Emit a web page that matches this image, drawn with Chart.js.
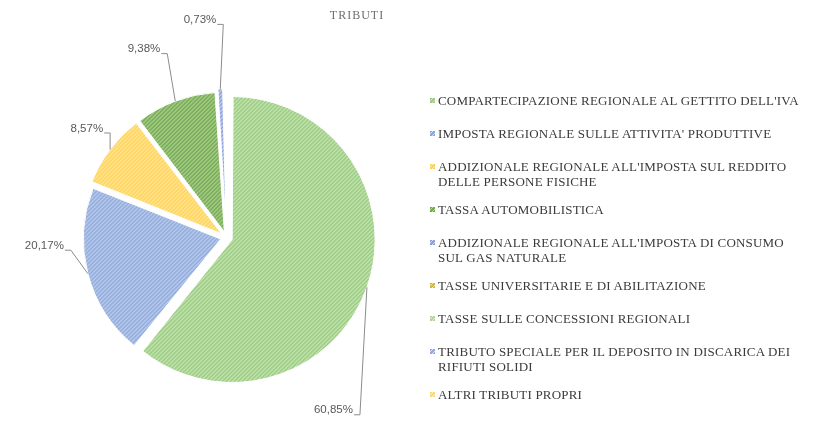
<!DOCTYPE html>
<html>
<head>
<meta charset="utf-8">
<script src="https://cdn.jsdelivr.net/npm/chart.js@4.4.0/dist/chart.umd.min.js"></script>
<style>
  body { margin: 0; background: #fff; }
  #wrap { position: relative; width: 829px; height: 421px; overflow: hidden; }
  #title {
    position: absolute; left: 0; top: 8px; width: 714px; text-align: center;
    font: 12px "Liberation Serif", serif; letter-spacing: 1px; color: #6f6f6f;
  }
  #legend {
    position: absolute; left: 428px; top: 93px; width: 400px;
    font: 13px "Liberation Serif", serif; color: #3a3a3a; letter-spacing: 0.2px;
  }
  .item { position: relative; padding-left: 10px; line-height: 15px; white-space: pre-line; margin-bottom: 18px; }
  .item.two { margin-bottom: 13px; }
  .mark { position: absolute; left: 2px; top: 5px; width: 5px; height: 5px; }
</style>
</head>
<body>
<div id="wrap">
  <canvas id="pie-chart" width="829" height="421"></canvas>
  <div id="title">TRIBUTI</div>
  <div id="legend"></div>
</div>
<script>
// dati (percentuali sul totale tributi)
var categories = [
    "COMPARTECIPAZIONE REGIONALE AL GETTITO DELL'IVA",
    "IMPOSTA REGIONALE SULLE ATTIVITA' PRODUTTIVE",
    "ADDIZIONALE REGIONALE ALL'IMPOSTA SUL REDDITO\nDELLE  PERSONE FISICHE",
    "TASSA AUTOMOBILISTICA",
    "ADDIZIONALE REGIONALE ALL'IMPOSTA DI  CONSUMO\nSUL GAS NATURALE",
    "TASSE UNIVERSITARIE E DI ABILITAZIONE",
    "TASSE SULLE CONCESSIONI REGIONALI",
    "TRIBUTO SPECIALE PER IL DEPOSITO IN DISCARICA DEI\nRIFIUTI SOLIDI",
    "ALTRI TRIBUTI PROPRI"
];
var percentages = [60.85, 20.17, 8.57, 9.38, 0.73, 0.12, 0.08, 0.06, 0.04];

// colori a righe (come il riempimento a tratteggio di Excel)
var lineColors = ['#9acb7f', '#8aa7da', '#ffd352', '#72aa4e', '#8a9ed8', '#d2b648', '#b2d39c', '#9aa6de', '#ffd966'];
var backColors = ['#d2eac3', '#cfdbf2', '#ffebb0', '#b9d8a4', '#d3daf3', '#efe3b0', '#e3f0da', '#dde1f5', '#fff1c8'];

// spostamento del testo dell'etichetta rispetto al bordo della fetta
var labelOffsets = [[-14, 123], [-24, -28], [-7, -21], [-15, -52], [-4, -69]];

function makeHatch(fg, bg) {
    var c = document.createElement('canvas');
    c.width = 4;
    c.height = 4;
    var g = c.getContext('2d');
    g.fillStyle = bg;
    g.fillRect(0, 0, 4, 4);
    g.strokeStyle = fg;
    g.lineWidth = 1.7;
    g.beginPath();
    g.moveTo(0, 4); g.lineTo(4, 0);
    g.moveTo(-1, 1); g.lineTo(1, -1);
    g.moveTo(3, 5); g.lineTo(5, 3);
    g.stroke();
    return g.createPattern(c, 'repeat');
}

function formatPct(v) {
    return v.toLocaleString('it-IT', { minimumFractionDigits: 2, maximumFractionDigits: 2 }) + '%';
}

// etichette esterne con linea di richiamo
var outLabels = {
    id: 'outLabels',
    afterDatasetsDraw: function(chart) {
        var ctx = chart.ctx;
        var arcs = chart.getDatasetMeta(0).data;
        ctx.save();
        ctx.font = '11.5px "Liberation Sans", Arial, sans-serif';
        ctx.textAlign = 'right';
        ctx.textBaseline = 'middle';
        for (var i = 0; i < labelOffsets.length; i++) {
            var arc = arcs[i];
            var p = arc.getProps(['x', 'y', 'startAngle', 'endAngle', 'outerRadius'], true);
            var mid = (p.startAngle + p.endAngle) / 2;
            var shift = (arc.options.offset || 0) / 4;
            var circ = p.endAngle - p.startAngle;
            var r = p.outerRadius + shift * (1 - Math.sin(Math.min(Math.PI, circ)));
            var ex = p.x + Math.cos(mid) * (r + shift);
            var ey = p.y + Math.sin(mid) * (r + shift);
            var tx = ex + labelOffsets[i][0];
            var ty = ey + labelOffsets[i][1];

            ctx.strokeStyle = '#8c8c8c';
            ctx.lineWidth = 1;
            ctx.beginPath();
            ctx.moveTo(tx + 1, ty + 4.5);
            ctx.lineTo(tx + 7, ty + 4.5);
            ctx.lineTo(ex, ey);
            ctx.stroke();

            ctx.fillStyle = '#595959';
            ctx.fillText(formatPct(percentages[i]), tx, ty);
        }
        ctx.restore();
    }
};

var patterns = lineColors.map(function(c, i) {
    return makeHatch(c, backColors[i]);
});

var ctx = document.getElementById('pie-chart').getContext('2d');
var chart = new Chart(ctx, {
    type: 'pie',
    data: {
        labels: categories,
        datasets: [{
            data: percentages,
            backgroundColor: patterns,
            borderColor: '#ffffff',
            borderWidth: 1,
            offset: 24
        }]
    },
    options: {
        responsive: false,
        animation: false,
        layout: {
            padding: { top: 87, bottom: 33, left: 77, right: 453 }
        },
        plugins: {
            legend: { display: false },
            tooltip: { enabled: false }
        }
    },
    plugins: [outLabels]
});

// legenda html a destra
var legend = document.getElementById('legend');
categories.forEach(function(name, i) {
    var div = document.createElement('div');
    div.className = 'item' + (name.indexOf('\n') >= 0 ? ' two' : '');
    var mark = document.createElement('span');
    mark.className = 'mark';
    mark.style.background = 'repeating-linear-gradient(-45deg, ' + lineColors[i] + ' 0 1.5px, ' + backColors[i] + ' 1.5px 2.8px)';
    div.appendChild(mark);
    div.appendChild(document.createTextNode(name));
    legend.appendChild(div);
});
</script>
</body>
</html>
